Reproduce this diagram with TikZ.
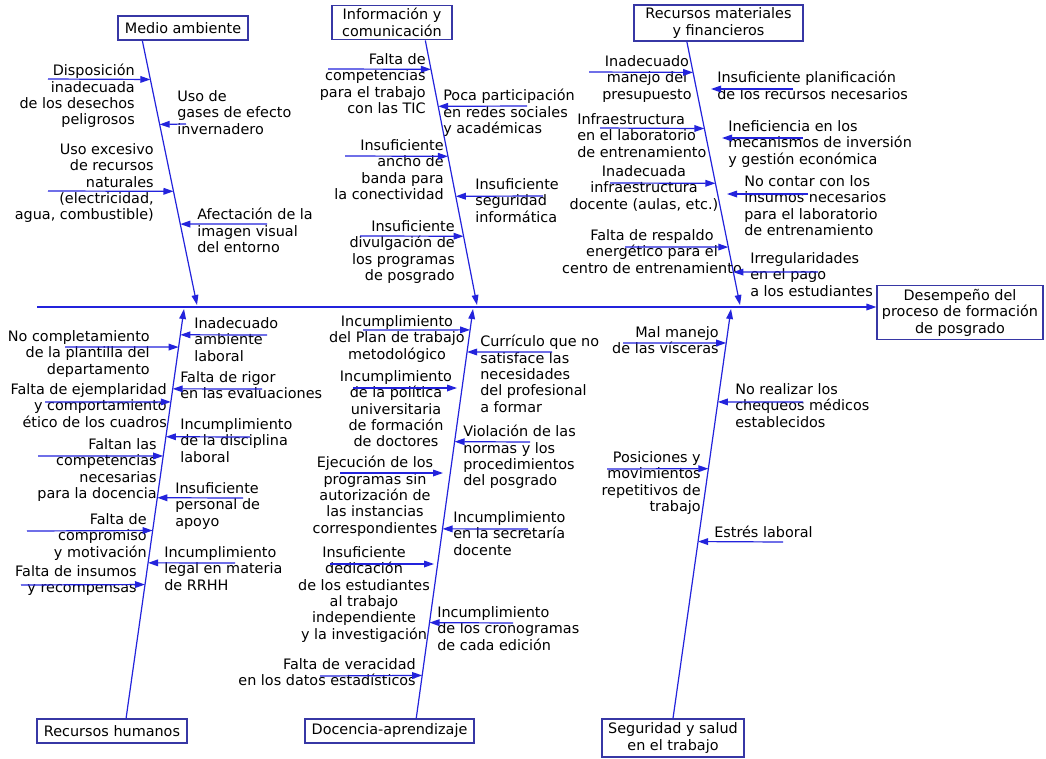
\documentclass[tikz,border=0pt]{standalone}
\usepackage{fontspec}
\setmainfont{DejaVu Sans}
\usetikzlibrary{arrows.meta,calc}
\definecolor{bonec}{RGB}{35,35,220}
\definecolor{boxc}{RGB}{55,55,165}

\begin{document}
\begin{tikzpicture}[x=0.75pt,y=-0.75pt,
  txt/.style={font=\fontsize{10.8}{12.3}\selectfont,inner sep=0pt,execute at begin node=\strut},
  lc/.style={txt,anchor=north east,align=right},
  rc/.style={txt,anchor=north west,align=left},
  lw/.style={txt,anchor=north west,align=left},
  cc/.style={txt,anchor=north,align=center},
  cat/.style={draw=boxc,line width=0.9pt,font=\fontsize{10.8}{12.3}\selectfont,align=center,inner sep=1pt},
  bone/.style={draw=bonec,line width=0.9pt,-{Triangle[length=7.5pt,width=5pt]}},
  cause/.style={bone}]
  \fill[white] (0,0) rectangle (1046,758);
  \useasboundingbox (0,0) rectangle (1046,758);

  \node[cat,minimum width=97.5pt,minimum height=18pt] (ma) at (183,28) {Medio ambiente};
  \node[cat,minimum width=90pt,minimum height=26pt] (ic) at (392,22.5) {Información y\\comunicación};
  \node[cat,minimum width=126.75pt,minimum height=27pt] (rm) at (718.5,23) {Recursos materiales\\y financieros};
  \node[cat,minimum width=112.5pt,minimum height=18pt] (rh) at (112,731) {Recursos humanos};
  \node[cat,minimum width=126.75pt,minimum height=18pt] (da) at (389.5,731) {Docencia-aprendizaje};
  \node[cat,minimum width=106.5pt,minimum height=28.5pt] (ss) at (673,738) {Seguridad y salud\\en el trabajo};
  \node[cat,minimum width=124.5pt,minimum height=41pt] (eff) at (960,312.5) {Desempeño del\\proceso de formación\\de posgrado};

  \coordinate (sp) at (37,307);
  \draw[bone] (sp) -- (sp -| eff.west);

  \coordinate (mat) at ($(ma.south west)!.19!(ma.south east)$);
  \coordinate (mab) at (197,305);
  \draw[bone] (mat) -- (mab);
  \path (mat) -- (mab) coordinate[pos=.147] (ma1h) coordinate[pos=.317] (ma2h)
    coordinate[pos=.570] (ma3h) coordinate[pos=.694] (ma4h);
  \node[lc] (ma1) at (135,64) {Disposición\\inadecuada\\de los desechos\\peligrosos};
  \node[rc] (ma2) at (177,90) {Uso de\\gases de efecto\\invernadero};
  \node[lc] (ma3) at (154,143) {Uso excesivo\\de recursos\\naturales\\(electricidad,\\agua, combustible)};
  \node[rc] (ma4) at (197,208) {Afectación de la\\imagen visual\\del entorno};
  \coordinate (ma1t) at (48,79);
  \coordinate (ma2t) at (186,124);
  \coordinate (ma3t) at (48,191);
  \coordinate (ma4t) at (267,224);
  \draw[cause] (ma1t) -- (ma1h);
  \draw[cause] (ma2t) -- (ma2h);
  \draw[cause] (ma3t) -- (ma3h);
  \draw[cause] (ma4t) -- (ma4h);

  \coordinate (ict) at ($(ic.south west)!.775!(ic.south east)$);
  \coordinate (icb) at (477,305);
  \draw[bone] (ict) -- (icb);
  \path (ict) -- (icb) coordinate[pos=.109] (ic1h) coordinate[pos=.249] (ic2h)
    coordinate[pos=.438] (ic3h) coordinate[pos=.589] (ic4h) coordinate[pos=.740] (ic5h);
  \node[lc] (ic1) at (426,53) {Falta de\\competencias\\para el trabajo\\con las TIC};
  \node[rc] (ic2) at (443,89) {Poca participación\\en redes sociales\\y académicas};
  \node[lc] (ic3) at (444,139) {Insuficiente\\ancho de\\banda para\\la conectividad};
  \node[rc] (ic4) at (475,178) {Insuficiente\\seguridad\\informática};
  \node[lc] (ic5) at (455,220) {Insuficiente\\divulgación de\\los programas\\de posgrado};
  \coordinate (ic1t) at (328,69);
  \coordinate (ic2t) at (527,106);
  \coordinate (ic3t) at (345,156);
  \coordinate (ic4t) at (543,196);
  \coordinate (ic5t) at (360,236);
  \draw[cause] (ic1t) -- (ic1h);
  \draw[cause] (ic2t) -- (ic2h);
  \draw[cause] (ic3t) -- (ic3h);
  \draw[cause] (ic4t) -- (ic4h);
  \draw[cause] (ic5t) -- (ic5h);

  \coordinate (rmt) at ($(rm.south west)!.314!(rm.south east)$);
  \coordinate (rmb) at (740,305);
  \draw[bone] (rmt) -- (rmb);
  \path (rmt) -- (rmb) coordinate[pos=.117] (rm1h) coordinate[pos=.330] (rm3h)
    coordinate[pos=.538] (rm5h) coordinate[pos=.780] (rm7h) coordinate[pos=.875] (rm8h);
  \coordinate (rm2h) at (711,89);
  \coordinate (rm4h) at (722,138);
  \coordinate (rm6h) at (727,194);
  \node[cc] (rm1) at (647,55) {Inadecuado\\manejo del\\presupuesto};
  \node[rc] (rm2) at (717,71) {Insuficiente planificación\\de los recursos necesarios};
  \node[lw] (rm3) at (577,113) {Infraestructura\\en el laboratorio\\de entrenamiento};
  \node[rc] (rm4) at (728,120) {Ineficiencia en los\\mecanismos de inversión\\y gestión económica};
  \node[cc] (rm5) at (644,165) {Inadecuada\\infraestructura\\docente (aulas, etc.)};
  \node[rc] (rm6) at (744,175) {No contar con los\\insumos necesarios\\para el laboratorio\\de entrenamiento};
  \node[cc] (rm7) at (652,229) {Falta de respaldo\\energético para el\\centro de entrenamiento};
  \node[rc] (rm8) at (750,252) {Irregularidades\\en el pago\\a los estudiantes};
  \coordinate (rm1t) at (589,72);
  \coordinate (rm2t) at (793,89);
  \coordinate (rm3t) at (600,128);
  \coordinate (rm4t) at (803,138);
  \coordinate (rm5t) at (610,183);
  \coordinate (rm6t) at (808,194);
  \coordinate (rm7t) at (625,247);
  \coordinate (rm8t) at (818,272);
  \draw[cause] (rm1t) -- (rm1h);
  \draw[cause] (rm2t) -- (rm2h);
  \draw[cause] (rm3t) -- (rm3h);
  \draw[cause] (rm4t) -- (rm4h);
  \draw[cause] (rm5t) -- (rm5h);
  \draw[cause] (rm6t) -- (rm6h);
  \draw[cause] (rm7t) -- (rm7h);
  \draw[cause] (rm8t) -- (rm8h);

  \coordinate (rht) at ($(rh.north west)!.593!(rh.north east)$);
  \coordinate (rhb) at (184,309);
  \draw[bone] (rht) -- (rhb);
  \path (rht) -- (rhb) coordinate[pos=.937] (rh1h) coordinate[pos=.907] (rh2h)
    coordinate[pos=.805] (rh3h) coordinate[pos=.773] (rh4h) coordinate[pos=.688] (rh5h)
    coordinate[pos=.641] (rh6h) coordinate[pos=.539] (rh7h) coordinate[pos=.459] (rh8h)
    coordinate[pos=.380] (rh9h) coordinate[pos=.327] (rh10h);
  \node[rc] (rh1) at (194,317) {Inadecuado\\ambiente\\laboral};
  \node[lc] (rh2) at (150,330) {No completamiento\\de la plantilla del\\departamento};
  \node[rc] (rh3) at (180,371) {Falta de rigor\\en las evaluaciones};
  \node[lc] (rh4) at (167,383) {Falta de ejemplaridad\\y comportamiento\\ético de los cuadros};
  \node[rc] (rh5) at (180,418) {Incumplimiento\\de la disciplina\\laboral};
  \node[lc] (rh6) at (157,438) {Faltan las\\competencias\\necesarias\\para la docencia};
  \node[rc] (rh7) at (175,482) {Insuficiente\\personal de\\apoyo};
  \node[lc] (rh8) at (147,513) {Falta de\\compromiso\\y motivación};
  \node[rc] (rh9) at (164,546) {Incumplimiento\\legal en materia\\de RRHH};
  \node[lc] (rh10) at (137,565) {Falta de insumos\\y recompensas};
  \coordinate (rh1t) at (267,335);
  \coordinate (rh2t) at (65,347);
  \coordinate (rh3t) at (262,389);
  \coordinate (rh4t) at (45,402);
  \coordinate (rh5t) at (250,437);
  \coordinate (rh6t) at (38,456);
  \coordinate (rh7t) at (243,498);
  \coordinate (rh8t) at (27,531);
  \coordinate (rh9t) at (235,563);
  \coordinate (rh10t) at (21,585);
  \draw[cause] (rh1t) -- (rh1h);
  \draw[cause] (rh2t) -- (rh2h);
  \draw[cause] (rh3t) -- (rh3h);
  \draw[cause] (rh4t) -- (rh4h);
  \draw[cause] (rh5t) -- (rh5h);
  \draw[cause] (rh6t) -- (rh6h);
  \draw[cause] (rh7t) -- (rh7h);
  \draw[cause] (rh8t) -- (rh8h);
  \draw[cause] (rh9t) -- (rh9h);
  \draw[cause] (rh10t) -- (rh10h);

  \coordinate (dat) at ($(da.north west)!.657!(da.north east)$);
  \coordinate (dab) at (473,309);
  \draw[bone] (dat) -- (dab);
  \path (dat) -- (dab) coordinate[pos=.949] (da1h) coordinate[pos=.895] (da2h)
    coordinate[pos=.676] (da4h) coordinate[pos=.463] (da6h) coordinate[pos=.234] (da8h)
    coordinate[pos=.105] (da9h);
  \coordinate (da3h) at (457,388);
  \coordinate (da5h) at (443,473);
  \coordinate (da7h) at (434,564);
  \node[cc] (da1) at (397,315) {Incumplimiento\\del Plan de trabajo\\metodológico};
  \node[rc] (da2) at (480,335) {Currículo que no\\satisface las\\necesidades\\del profesional\\a formar};
  \node[cc] (da3) at (396,370) {Incumplimiento\\de la política\\universitaria\\de formación\\de doctores};
  \node[rc] (da4) at (463,425) {Violación de las\\normas y los\\procedimientos\\del posgrado};
  \node[cc] (da5) at (375,456) {Ejecución de los\\programas sin\\autorización de\\las instancias\\correspondientes};
  \node[rc] (da6) at (453,511) {Incumplimiento\\en la secretaría\\docente};
  \node[cc] (da7) at (364,546) {Insuficiente\\dedicación\\de los estudiantes\\al trabajo\\independiente\\y la investigación};
  \node[rc] (da8) at (437,606) {Incumplimiento\\de los cronogramas\\de cada edición};
  \node[lc] (da9) at (416,658) {Falta de veracidad\\en los datos estadísticos};
  \coordinate (da1t) at (363,330);
  \coordinate (da2t) at (552,352);
  \coordinate (da3t) at (353,388);
  \coordinate (da4t) at (530,442);
  \coordinate (da5t) at (340,473);
  \coordinate (da6t) at (528,529);
  \coordinate (da7t) at (330,564);
  \coordinate (da8t) at (513,623);
  \coordinate (da9t) at (320,676);
  \draw[cause] (da1t) -- (da1h);
  \draw[cause] (da2t) -- (da2h);
  \draw[cause] (da3t) -- (da3h);
  \draw[cause] (da4t) -- (da4h);
  \draw[cause] (da5t) -- (da5h);
  \draw[cause] (da6t) -- (da6h);
  \draw[cause] (da7t) -- (da7h);
  \draw[cause] (da8t) -- (da8h);
  \draw[cause] (da9t) -- (da9h);

  \coordinate (sst) at ($(ss.north west)!.5!(ss.north east)$);
  \coordinate (ssb) at (731,309);
  \draw[bone] (sst) -- (ssb);
  \path (sst) -- (ssb) coordinate[pos=.917] (ss1h) coordinate[pos=.773] (ss2h)
    coordinate[pos=.610] (ss3h) coordinate[pos=.432] (ss4h);
  \node[lc] (ss1) at (719,326) {Mal manejo\\de las vísceras};
  \node[rc] (ss2) at (735,383) {No realizar los\\chequeos médicos\\establecidos};
  \node[lc] (ss3) at (701,451) {Posiciones y\\movimientos\\repetitivos de\\trabajo};
  \node[rc] (ss4) at (714,526) {Estrés laboral};
  \coordinate (ss1t) at (623,343);
  \coordinate (ss2t) at (803,402);
  \coordinate (ss3t) at (607,469);
  \coordinate (ss4t) at (783,542);
  \draw[cause] (ss1t) -- (ss1h);
  \draw[cause] (ss2t) -- (ss2h);
  \draw[cause] (ss3t) -- (ss3h);
  \draw[cause] (ss4t) -- (ss4h);
\end{tikzpicture}
\end{document}
